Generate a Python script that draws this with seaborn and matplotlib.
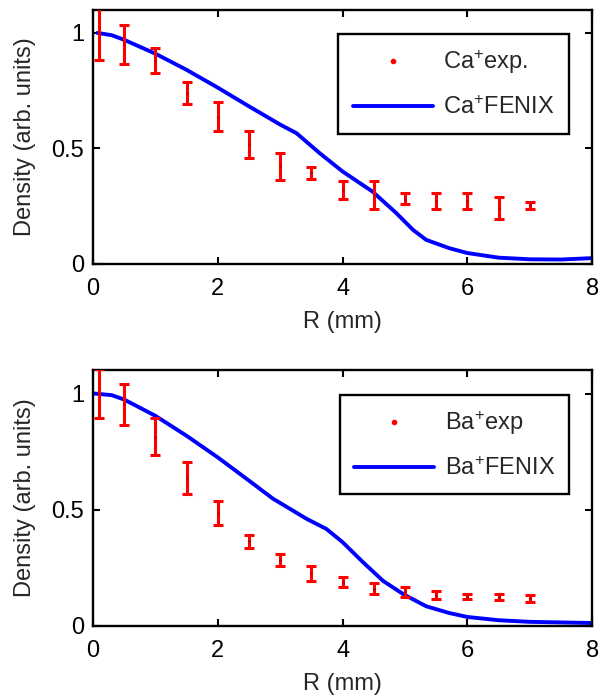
import matplotlib
matplotlib.use("Agg")
import matplotlib.pyplot as plt
import pandas as pd
import seaborn as sns
from matplotlib.lines import Line2D

# measured points (R in mm) with error bars
r_exp = [0.1, 0.5, 1.0, 1.5, 2.0, 2.5, 3.0, 3.5, 4.0, 4.5, 5.0, 5.5, 6.0, 6.5, 7.0]
ca_exp = [1.0, 0.95, 0.88, 0.74, 0.637, 0.517, 0.423, 0.393, 0.321, 0.298, 0.283, 0.272, 0.274, 0.242, 0.254]
ca_err = [0.116, 0.085, 0.055, 0.046, 0.063, 0.06, 0.058, 0.025, 0.04, 0.062, 0.022, 0.033, 0.035, 0.046, 0.016]
ba_exp = [1.0, 0.953, 0.814, 0.638, 0.486, 0.365, 0.283, 0.227, 0.19, 0.159, 0.146, 0.133, 0.126, 0.124, 0.118]
ba_err = [0.107, 0.087, 0.079, 0.069, 0.05, 0.028, 0.026, 0.032, 0.021, 0.024, 0.02, 0.018, 0.012, 0.013, 0.014]

# FENIX simulation curves
ca_r = [0.07, 0.3, 0.5, 1.0, 1.5, 2.0, 2.5, 3.0, 3.26, 3.63, 4.0, 4.48, 4.86, 5.13,
        5.34, 5.71, 6.0, 6.5, 7.0, 7.5, 8.0]
ca_fenix = [1.0, 0.99, 0.97, 0.91, 0.84, 0.763, 0.682, 0.603, 0.566, 0.48, 0.40, 0.313,
            0.22, 0.147, 0.104, 0.068, 0.047, 0.027, 0.02, 0.019, 0.025]
ba_r = [0.02, 0.3, 0.5, 1.0, 1.5, 2.0, 2.5, 2.88, 3.42, 3.74, 4.0, 4.33, 4.65, 4.98,
        5.34, 5.71, 6.0, 6.5, 7.0, 8.0]
ba_fenix = [1.0, 0.993, 0.974, 0.904, 0.818, 0.725, 0.625, 0.548, 0.461, 0.417, 0.36,
            0.273, 0.193, 0.135, 0.084, 0.055, 0.038, 0.024, 0.017, 0.012]

sns.set_theme(style="ticks")
plt.rcParams["font.family"] = ["Liberation Sans", "DejaVu Sans"]
plt.rcParams["mathtext.fontset"] = "custom"
plt.rcParams["mathtext.rm"] = "Liberation Sans"
plt.rcParams["mathtext.default"] = "regular"

FS = 17
fig = plt.figure(figsize=(6, 7), dpi=100)
ax1 = fig.add_axes([0.155, 0.623, 0.832, 0.363])
ax2 = fig.add_axes([0.155, 0.106, 0.832, 0.365])


def panel(ax, ion, exp_label, r, y, err, rr, fen):
    exp_df = pd.DataFrame({"R": r, "D": y})
    fen_df = pd.DataFrame({"R": rr, "D": fen})
    sns.lineplot(data=fen_df, x="R", y="D", ax=ax, color="#0000ff", lw=2.8,
                 sort=False, zorder=2)
    ax.errorbar(r, y, yerr=err, fmt="none", ecolor="#ff0000", elinewidth=2.2,
                capsize=3.5, capthick=2.2, zorder=3)
    sns.scatterplot(data=exp_df, x="R", y="D", ax=ax, color="#cc0000", s=5,
                    linewidth=0, zorder=4)
    ax.set_xlim(0, 8)
    ax.set_ylim(0, 1.1)
    ax.set_xticks([0, 2, 4, 6, 8])
    ax.set_yticks([0, 0.5, 1])
    ax.set_yticklabels(["0", "0.5", "1"])
    ax.set_xlabel("R (mm)", fontsize=FS, labelpad=8)
    ax.set_ylabel("Density (arb. units)", fontsize=FS, labelpad=11)
    ax.tick_params(direction="in", length=5, width=1.5, top=True, right=True,
                   labelsize=FS, color="black", labelcolor="black")
    ax.tick_params(axis="x", pad=10)
    ax.tick_params(axis="y", pad=6.5)
    for s in ax.spines.values():
        s.set_visible(True)
        s.set_linewidth(1.7)
        s.set_color("black")
    handles = [
        Line2D([], [], ls="none", marker="o", ms=3, color="#ff0000"),
        Line2D([], [], color="#0000ff", lw=2.8),
    ]
    labels = [ion + "$^{+}$" + exp_label, ion + "$^{+}$FENIX"]
    leg = ax.legend(handles, labels, loc="upper right", fontsize=FS,
                    frameon=True, fancybox=False, framealpha=1,
                    edgecolor="black", handlelength=3.4, handletextpad=0.45,
                    labelspacing=0.85, borderpad=0.6,
                    bbox_to_anchor=(0.978, 0.95))
    leg.get_frame().set_linewidth(1.7)


panel(ax1, "Ca", "exp.", r_exp, ca_exp, ca_err, ca_r, ca_fenix)
panel(ax2, "Ba", "exp", r_exp, ba_exp, ba_err, ba_r, ba_fenix)

fig.savefig("out.png", dpi=100)
